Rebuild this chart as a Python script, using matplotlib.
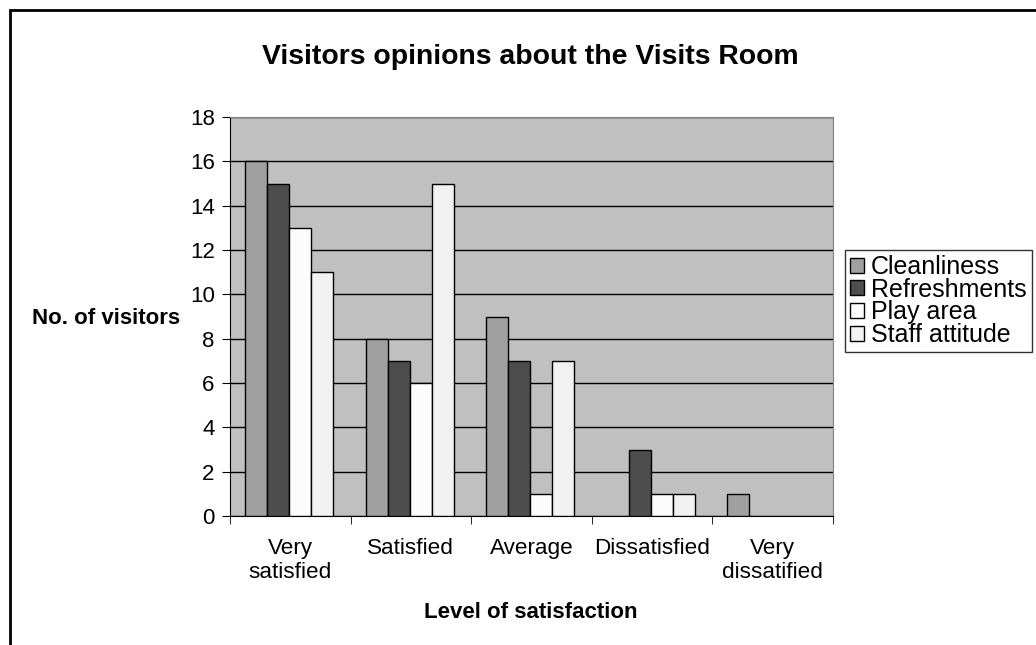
import numpy as np
import matplotlib.pyplot as plt
from matplotlib.patches import Rectangle

plt.rcParams['font.family'] = ['Liberation Sans', 'DejaVu Sans']

# data
niveles = ['Very\nsatisfied', 'Satisfied', 'Average', 'Dissatisfied', 'Very\ndissatified']
series = ['Cleanliness', 'Refreshments', 'Play area', 'Staff attitude']
cleanliness = [16, 8, 9, 0, 1]
refreshments = [15, 7, 7, 3, 0]
play_area = [13, 6, 1, 1, 0]
staff_attitude = [11, 15, 7, 1, 0]
colores = ['#A0A0A0', '#4D4D4D', '#FCFCFC', '#F2F2F2']

valores = [cleanliness, refreshments, play_area, staff_attitude]

fig = plt.figure(figsize=(10.36, 6.45), dpi=100)
ax = fig.add_axes([230 / 1036, 1 - 516 / 645, 603 / 1036, 399 / 645])

x = np.arange(len(niveles))
w = 0.183
for i, (nombre, vals, c) in enumerate(zip(series, valores, colores)):
    # las barras en cero no se dibujan
    alturas = np.where(np.array(vals) == 0, np.nan, vals)
    ax.bar(x + (i - 1.5) * w - 0.01, alturas, width=w, color=c, edgecolor='black',
           linewidth=1, label=nombre, zorder=3)

ax.set_facecolor('#C0C0C0')
ax.set_xlim(-0.5, 4.5)
ax.set_ylim(0, 18)
ax.set_yticks(range(0, 19, 2))
ax.yaxis.grid(True, color='black', linewidth=1, zorder=1)
ax.set_axisbelow(True)

ax.set_xticks(x)
ax.set_xticklabels(niveles, fontsize=16.2)
ax.tick_params(axis='x', length=0, pad=16)
ax.set_xticks(np.arange(-0.5, 5, 1), minor=True)
ax.tick_params(axis='x', which='minor', length=6, direction='out', color='black')
ax.tick_params(axis='y', labelsize=16, length=6, direction='out', pad=5)

for s in ['left', 'bottom']:
    ax.spines[s].set_color('black')
for s in ['top', 'right']:
    ax.spines[s].set_color('#808080')

fig.text(530 / 1036, 1 - 57 / 645, 'Visitors opinions about the Visits Room',
         fontsize=20.4, fontweight='bold', ha='center', va='center')
fig.text(531 / 1036, 1 - 613 / 645, 'Level of satisfaction',
         fontsize=16, fontweight='bold', ha='center', va='center')
fig.text(106 / 1036, 1 - 318 / 645, 'No. of visitors',
         fontsize=16, fontweight='bold', ha='center', va='center')

leg = ax.legend(loc='upper left', bbox_to_anchor=(845 / 1036, 1 - 250 / 645),
                bbox_transform=fig.transFigure, fontsize=18,
                frameon=True, fancybox=False, edgecolor='black',
                handlelength=0.55, handleheight=0.55, handletextpad=0.3,
                borderpad=0.2, labelspacing=-0.05, borderaxespad=0)
leg.get_frame().set_linewidth(1)

# marco exterior
fig.patches.append(Rectangle((10 / 1036, -0.1), 1.2, 1 - 10 / 645 + 0.1,
                             transform=fig.transFigure, fill=False,
                             edgecolor='black', linewidth=2))

fig.savefig('out.png', dpi=100)
